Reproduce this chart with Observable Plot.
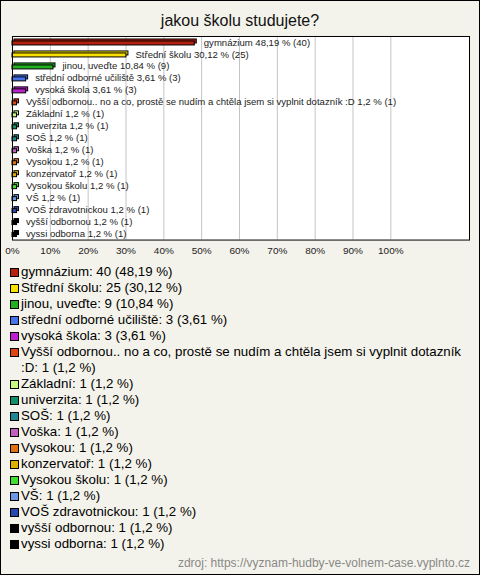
<!DOCTYPE html>
<html>
<head>
<meta charset="utf-8">
<script src="https://cdn.jsdelivr.net/npm/d3@7"></script>
<script src="https://cdn.jsdelivr.net/npm/@observablehq/plot@0.6"></script>
<style>
  html, body { margin: 0; padding: 0; }
  body { width: 480px; height: 575px; overflow: hidden; }
  #wrap {
    position: relative; width: 478px; height: 573px;
    border: 1px solid #000; background: #f4f3eb;
    font-family: "Liberation Sans", Arial, sans-serif; color: #000;
  }
  #title { position: absolute; top: 10px; left: 0; width: 478px; text-align: center; font-size: 16px; line-height: 20px; color: #111; }
  #chart { position: absolute; top: 29px; left: -1px; }
  #legend { position: absolute; top: 263px; left: 0; width: 470px; font-size: 13.3px; line-height: 16px; }
  .item { position: relative; padding-left: 20px; }
  .sw { position: absolute; left: 9px; top: 4px; width: 7px; height: 7px; border: 1px solid #000; }
  #caption { position: absolute; top: 555px; right: 9px; font-size: 12px; color: #888; }
</style>
</head>
<body>
<div id="wrap">
  <div id="title">jakou školu studujete?</div>
  <div id="chart"></div>
  <div id="legend"></div>
  <div id="caption">zdroj: https://vyznam-hudby-ve-volnem-case.vyplnto.cz</div>
</div>
<script>
const categories = [
  "gymnázium",
  "Střední školu",
  "jinou, uveďte",
  "střední odborné učiliště",
  "vysoká škola",
  "Vyšší odbornou.. no a co, prostě se nudím a chtěla jsem si vyplnit dotazník :D",
  "Základní",
  "univerzita",
  "SOŠ",
  "Voška",
  "Vysokou",
  "konzervatoř",
  "Vysokou školu",
  "VŠ",
  "VOŠ zdravotnickou",
  "vyšší odbornou",
  "vyssi odborna"
];
const counts = [40, 25, 9, 3, 3, 1, 1, 1, 1, 1, 1, 1, 1, 1, 1, 1, 1];
const percents = [48.19, 30.12, 10.84, 3.61, 3.61, 1.2, 1.2, 1.2, 1.2, 1.2, 1.2, 1.2, 1.2, 1.2, 1.2, 1.2, 1.2];
const xTicks = [0, 10, 20, 30, 40, 50, 60, 70, 80, 90, 100];
const colors = [
  "#b8200e", "#f8e000", "#22b022", "#4672ee", "#c020d0", "#e04412",
  "#c8f880", "#109068", "#208890", "#c060c0", "#e07010", "#e0b000",
  "#40e030", "#6a96e4", "#2848b0", "#000000", "#000000"
];

const fmt = v => String(v).replace(".", ",");
const data = categories.map((name, i) => ({name, count: counts[i], pct: percents[i]}));

const chart = Plot.plot({
  width: 480,
  height: 233,
  marginTop: 6,
  marginBottom: 23,
  marginLeft: 12,
  marginRight: 10,
  x: {domain: [0, 120.8], label: null},
  y: {domain: categories, padding: 0, axis: null},
  color: {domain: categories, range: colors},
  style: {fontFamily: "'Liberation Sans', Arial, sans-serif", background: "transparent", overflow: "visible"},
  marks: [
    Plot.frame({fill: "white", stroke: "none"}),
    Plot.ruleX(xTicks.slice(1), {stroke: "#c4c4c4"}),
    Plot.barX(data, {x: "pct", y: "name", fill: "name", stroke: "#000", strokeWidth: 1, insetTop: 5, insetBottom: 3, dx: 2, dy: -2}),
    Plot.barX(data, {x: "pct", y: "name", fill: "name", stroke: "#000", strokeWidth: 1, insetTop: 5, insetBottom: 3}),
    Plot.text(data, {x: "pct", y: "name", text: d => `${d.name} ${fmt(d.pct)} % (${d.count})`, textAnchor: "start", dx: 9, dy: 0, fontSize: 9.6, fill: "#222"}),
    Plot.axisX(xTicks, {tickSize: 0, tickPadding: 7, tickFormat: d => d + "%", fontSize: 10, fill: "#222", label: null}),
    Plot.frame({stroke: "#000", fill: "none"})
  ]
});
document.getElementById("chart").appendChild(chart);

const legend = document.getElementById("legend");
data.forEach((d, i) => {
  const item = document.createElement("div");
  item.className = "item";
  const sw = document.createElement("span");
  sw.className = "sw";
  sw.style.background = colors[i];
  item.appendChild(sw);
  item.appendChild(document.createTextNode(`${d.name}: ${d.count} (${fmt(d.pct)} %)`));
  legend.appendChild(item);
});
</script>
</body>
</html>
